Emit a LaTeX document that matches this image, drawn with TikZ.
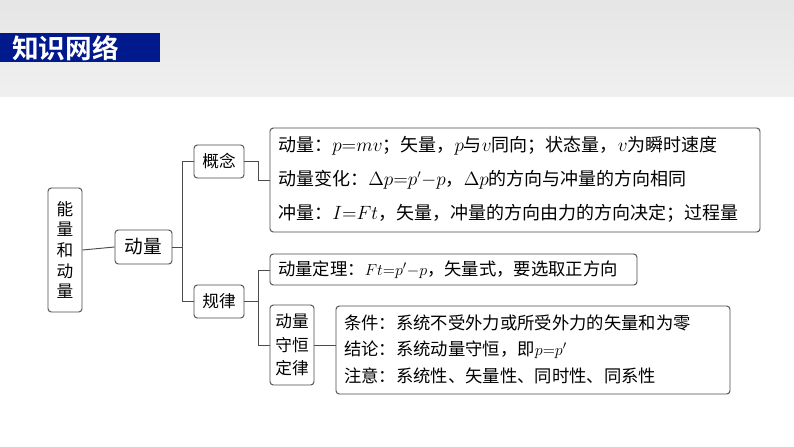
\documentclass[tikz,border=0pt]{standalone}
\usepackage{fontspec}
\newfontfamily\cjk{Noto Sans CJK SC}
\newfontfamily\cjkb{Noto Sans CJK SC Bold}
\usetikzlibrary{positioning}
\begin{document}
\begin{tikzpicture}[x=0.75pt,y=-0.75pt,
  bx/.style={draw=black!70,rounded corners=2.5pt,line width=0.7pt,inner sep=0pt},
  tx/.style={font=\cjk\fontsize{13.5}{15}\selectfont,anchor=west,inner sep=0pt},
  tz/.style={font=\cjk\fontsize{13}{15}\selectfont,anchor=west,inner sep=0pt},
  ln/.style={draw=black!70,line width=0.7pt}]
\useasboundingbox (0,0) rectangle (794,447);
\shade[top color=black!10,bottom color=black!6] (0,0) rectangle (794,97);
\fill[white] (0,97) rectangle (794,447);
\fill[blue!50!black!90!cyan] (0,33) rectangle (160,62);
\node[font=\cjkb\fontsize{20}{22}\selectfont,text=white,anchor=west,inner sep=0pt] (title) at (12,48) {知识网络};
% boxes
\node[bx,minimum width=34*0.75pt,minimum height=124*0.75pt,align=center,font=\cjk\fontsize{12.5}{15.5}\selectfont] (root) at (65,250) {能\\量\\和\\动\\量};
\node[bx,minimum width=57*0.75pt,minimum height=34*0.75pt,font=\cjk\fontsize{14}{16}\selectfont] (dl) at (143.5,247) {动量};
\node[bx,minimum width=50*0.75pt,minimum height=33*0.75pt,font=\cjk\fontsize{12.5}{15}\selectfont] (gn) at (219,161.5) {概念};
\node[bx,minimum width=50*0.75pt,minimum height=33*0.75pt,font=\cjk\fontsize{12.5}{15}\selectfont] (gl) at (219,301.5) {规律};
\draw[bx] (270,128) rectangle (760,232);
\coordinate (c1) at (270,180);
\node[tx] (t1) at (278,146) {动量：$p{=}mv$；矢量，$p$与$v$同向；状态量，$v$为瞬时速度};
\node[tx] (t2) at (278,180) {动量变化：$\Delta p{=}p'{-}p$，$\Delta p$的方向与冲量的方向相同};
\node[tx] (t3) at (278,213) {冲量：$I{=}Ft$，矢量，冲量的方向由力的方向决定；过程量};
\draw[bx] (270,254) rectangle (637,285);
\coordinate (c2) at (270,270);
\node[tz] (t4) at (278,270) {动量定理：$Ft{=}p'{-}p$，矢量式，要选取正方向};
\node[bx,minimum width=44*0.75pt,minimum height=80*0.75pt,align=center,font=\cjk\fontsize{12.5}{17.5}\selectfont] (sh) at (292,345) {动量\\守恒\\定律};
\draw[bx] (336,306) rectangle (730,394);
\coordinate (c3) at (336,345);
\node[tz] (t5) at (344,323) {条件：系统不受外力或所受外力的矢量和为零};
\node[tz] (t6) at (344,350) {结论：系统动量守恒，即$p{=}p'$};
\node[tz] (t7) at (344,376) {注意：系统性、矢量性、同时性、同系性};
% connectors
\draw[ln] (root.east) -- (dl.west);
\draw[ln] (dl.east) -- ++(11,0) coordinate (b1);
\draw[ln] (gn.west) -- ++(-11,0) |- (gl.west);
\draw[ln] (gn.east) -- ++(14,0) coordinate (b2) |- (c1);
\draw[ln] (gl.east) -- ++(14,0) coordinate (b3);
\draw[ln] (c2) -- ++(-12,0) |- (sh.west);
\draw[ln] (sh.east) -- (c3);
\end{tikzpicture}
\end{document}
